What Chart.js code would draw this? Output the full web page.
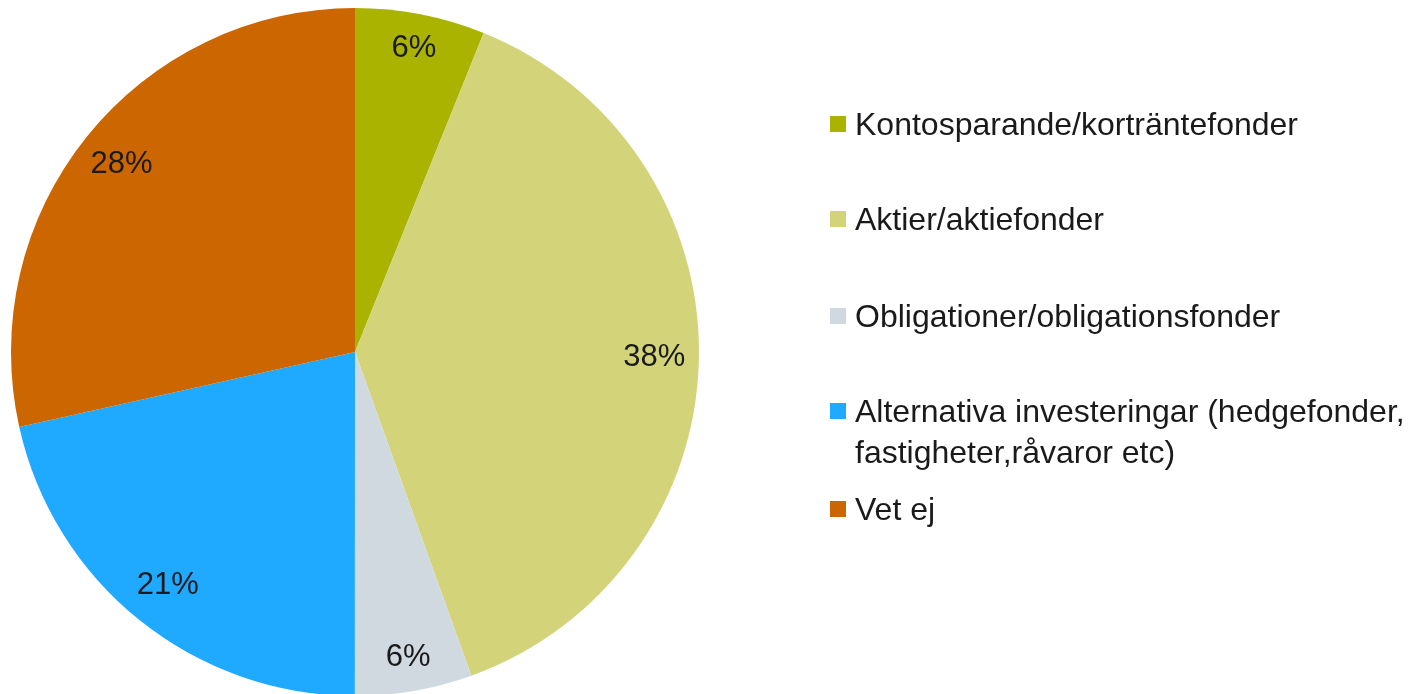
<!DOCTYPE html>
<html>
<head>
<meta charset="utf-8">
<script src="https://cdn.jsdelivr.net/npm/chart.js@4/dist/chart.umd.min.js"></script>
<style>
	html, body { margin: 0; padding: 0; background: #fff; overflow: hidden; }
	#wrap { position: relative; width: 1423px; height: 694px; }
	#chart { position: absolute; left: 0; top: 0; }
	.item { position: absolute; left: 830px; font-family: "Liberation Sans", Arial, sans-serif; font-size: 32px; line-height: 41px; color: #1a1a1a; white-space: nowrap; }
	.item .box { position: absolute; left: 0; top: 12px; width: 16px; height: 16px; }
	.item .txt { margin-left: 25px; }
</style>
</head>
<body>
<div id="wrap">
	<canvas id="chart" width="1423" height="700"></canvas>
	<div id="legend"></div>
</div>
<script>
const labels = [
	'Kontosparande/korträntefonder',
	'Aktier/aktiefonder',
	'Obligationer/obligationsfonder',
	['Alternativa investeringar (hedgefonder,', 'fastigheter,råvaror etc)'],
	'Vet ej'
];
const values = [6.1, 38.4, 5.5, 21.49, 28.49];
const colors = ['#a9b300', '#d3d37a', '#cfd9df', '#1fa9ff', '#cc6600'];

// legend, drawn as html on the right
const legendTops = [104, 199, 296, 391, 489];
const legend = document.getElementById('legend');
labels.forEach(function (lab, i) {
	const div = document.createElement('div');
	div.className = 'item';
	div.style.top = legendTops[i] + 'px';
	const box = document.createElement('span');
	box.className = 'box';
	box.style.background = colors[i];
	const txt = document.createElement('div');
	txt.className = 'txt';
	txt.innerHTML = [].concat(lab).join('<br>');
	div.appendChild(box);
	div.appendChild(txt);
	legend.appendChild(div);
});

// percent labels inside the slices, small slices pushed a bit further out
const sliceLabels = {
	id: 'sliceLabels',
	afterDatasetsDraw(chart) {
		const ctx = chart.ctx;
		const meta = chart.getDatasetMeta(0);
		ctx.save();
		ctx.font = '31px "Liberation Sans", Arial, sans-serif';
		ctx.fillStyle = '#1a1a1a';
		ctx.textAlign = 'center';
		ctx.textBaseline = 'middle';
		meta.data.forEach(function (arc, i) {
			const p = arc.getProps(['x', 'y', 'startAngle', 'endAngle', 'outerRadius']);
			const mid = (p.startAngle + p.endAngle) / 2;
			const r = p.outerRadius * (values[i] < 10 ? 0.9 : 0.87);
			ctx.fillText(Math.round(values[i]) + '%', p.x + Math.cos(mid) * r, p.y + Math.sin(mid) * r);
		});
		ctx.restore();
	}
};

new Chart(document.getElementById('chart'), {
	type: 'pie',
	data: {
		labels: labels,
		datasets: [{
			data: values,
			backgroundColor: colors,
			borderWidth: 0
		}]
	},
	options: {
		responsive: false,
		animation: false,
		layout: { padding: { left: 11, top: 8, right: 724, bottom: 4 } },
		plugins: {
			legend: { display: false },
			tooltip: { enabled: false }
		}
	},
	plugins: [sliceLabels]
});
</script>
</body>
</html>
